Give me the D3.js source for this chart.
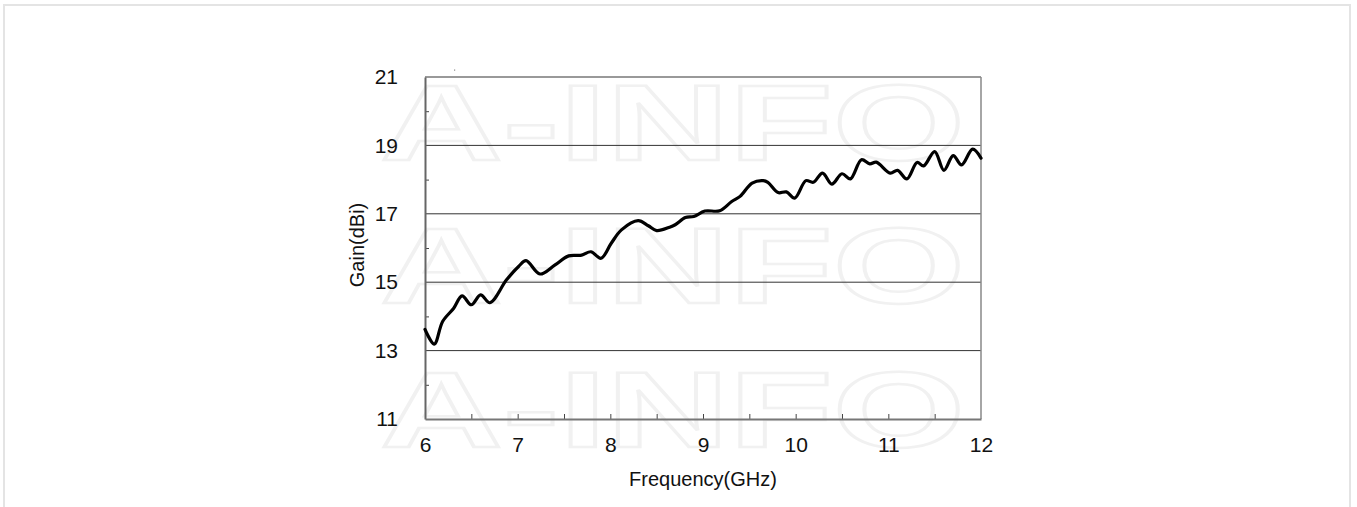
<!DOCTYPE html>
<html>
<head>
<meta charset="utf-8">
<script src="https://cdn.jsdelivr.net/npm/d3@7/dist/d3.min.js"></script>
<style>
  html, body { margin: 0; padding: 0; background: #fff; }
  svg { display: block; }
  text { font-family: "Liberation Sans", Arial, sans-serif; }
</style>
</head>
<body>
<svg id="chart" width="1357" height="507"></svg>
<script>
// ---- data ----
const freq = [6.00, 6.10, 6.19, 6.31, 6.40, 6.50, 6.60, 6.70, 6.88, 7.01, 7.09, 7.24, 7.40,
  7.55, 7.69, 7.79, 7.90, 8.01, 8.12, 8.30, 8.41, 8.50, 8.64, 8.70, 8.81, 8.90, 9.02,
  9.18, 9.31, 9.40, 9.53, 9.65, 9.70, 9.81, 9.90, 9.99, 10.11, 10.19, 10.29, 10.39,
  10.50, 10.59, 10.71, 10.80, 10.87, 11.02, 11.10, 11.20, 11.31, 11.38, 11.50, 11.60,
  11.70, 11.79, 11.91, 12.00];
const gain = [13.62, 13.19, 13.85, 14.24, 14.60, 14.34, 14.63, 14.40, 15.07, 15.46, 15.63, 15.24, 15.50,
  15.77, 15.79, 15.89, 15.70, 16.14, 16.53, 16.80, 16.65, 16.51, 16.61, 16.68, 16.89, 16.92, 17.08,
  17.09, 17.36, 17.51, 17.90, 17.97, 17.92, 17.62, 17.64, 17.46, 17.97, 17.92, 18.19, 17.87,
  18.17, 18.02, 18.58, 18.46, 18.51, 18.19, 18.27, 18.02, 18.50, 18.40, 18.82, 18.27,
  18.70, 18.43, 18.89, 18.63];
const xTickLabels = [6, 7, 8, 9, 10, 11, 12];
const xMinorTicks = [6.5, 7, 7.5, 8, 8.5, 9, 9.5, 10, 10.5, 11, 11.5];
const yTickLabels = [11, 13, 15, 17, 19, 21];
const yMinorTicks = [12, 14, 16, 18, 20];
const gridValues = [13, 15, 17, 19, 21];
const xTitle = "Frequency(GHz)";
const yTitle = "Gain(dBi)";
const watermark = "A-INFO";
const watermarkRows = [160, 303, 447];

// ---- drawing ----
const svg = d3.select("#chart");
const W = 1357, H = 507;
const x = d3.scaleLinear().domain([6, 12]).range([425, 981]);
const y = d3.scaleLinear().domain([11, 21]).range([419, 77]);

// outer frame (light gray)
svg.append("path")
  .attr("d", `M4,${H} L4,5 L1350,5 L1350,${H}`)
  .attr("fill", "none").attr("stroke", "#e4e4e4").attr("stroke-width", 2);

// watermark
svg.append("g").selectAll("text").data(watermarkRows).join("text")
  .attr("x", 380).attr("y", d => d)
  .attr("textLength", 585).attr("lengthAdjust", "spacingAndGlyphs")
  .style("font-family", "'Liberation Sans', Arial, sans-serif")
  .style("font-weight", "bold")
  .style("font-size", "107px")
  .attr("fill", "none").attr("stroke", "#f1f1f1").attr("stroke-width", 2.5)
  .text(watermark);

// gridlines
svg.append("g").selectAll("line").data(gridValues).join("line")
  .attr("x1", x(6)).attr("x2", x(12))
  .attr("y1", d => y(d)).attr("y2", d => y(d))
  .attr("stroke", d => d === 21 ? "#777" : "#333")
  .attr("stroke-width", d => d === 21 ? 1.5 : 1);

// right border
svg.append("line")
  .attr("x1", x(12)).attr("x2", x(12)).attr("y1", y(21)).attr("y2", y(11))
  .attr("stroke", "#888").attr("stroke-width", 1.5);

// y minor ticks (inward)
svg.append("g").attr("transform", `translate(${x(6)},0)`)
  .call(d3.axisRight(y).tickValues(yMinorTicks).tickSize(4).tickFormat(""))
  .call(g => g.select(".domain").remove())
  .call(g => g.selectAll("line").attr("stroke", "#444"));

// x minor ticks (inward)
svg.append("g").attr("transform", `translate(0,${y(11)})`)
  .call(d3.axisTop(x).tickValues(xMinorTicks).tickSize(5).tickFormat(""))
  .call(g => g.select(".domain").remove())
  .call(g => g.selectAll("line").attr("stroke", "#444"));

// left axis
svg.append("g").attr("transform", `translate(${x(6)},0)`)
  .call(d3.axisLeft(y).tickValues(yTickLabels).tickSize(0).tickPadding(27).tickFormat(d3.format("d")))
  .call(g => g.select(".domain").attr("stroke", "#666").attr("stroke-width", 2))
  .call(g => g.selectAll("text").attr("fill", "#111")
    .style("font-size", "21px").style("font-family", "'Liberation Sans', Arial, sans-serif"));

// bottom axis
svg.append("g").attr("transform", `translate(0,${y(11)})`)
  .call(d3.axisBottom(x).tickValues(xTickLabels).tickSize(0).tickPadding(18).tickFormat(d3.format("d")))
  .call(g => g.select(".domain").attr("stroke", "#777").attr("stroke-width", 2))
  .call(g => g.selectAll("text").attr("fill", "#111")
    .style("font-size", "21px").style("font-family", "'Liberation Sans', Arial, sans-serif"));

// data line
const line = d3.line()
  .x((d, i) => x(freq[i]))
  .y(d => y(d))
  .curve(d3.curveCatmullRom.alpha(0.5));
svg.append("path").datum(gain)
  .attr("d", line)
  .attr("fill", "none").attr("stroke", "#000").attr("stroke-width", 3.2)
  .attr("stroke-linejoin", "round").attr("stroke-linecap", "round");

// tiny artifact dot
svg.append("rect").attr("x", 454).attr("y", 69.5).attr("width", 1.2).attr("height", 1.2).attr("fill", "#888");

// axis titles
svg.append("text")
  .attr("x", (x(6) + x(12)) / 2).attr("y", 486)
  .attr("text-anchor", "middle").attr("fill", "#111")
  .style("font-size", "20px")
  .text(xTitle);

svg.append("text")
  .attr("transform", `translate(364,245) rotate(-90)`)
  .attr("text-anchor", "middle").attr("fill", "#111")
  .style("font-size", "20px")
  .text(yTitle);
</script>
</body>
</html>
